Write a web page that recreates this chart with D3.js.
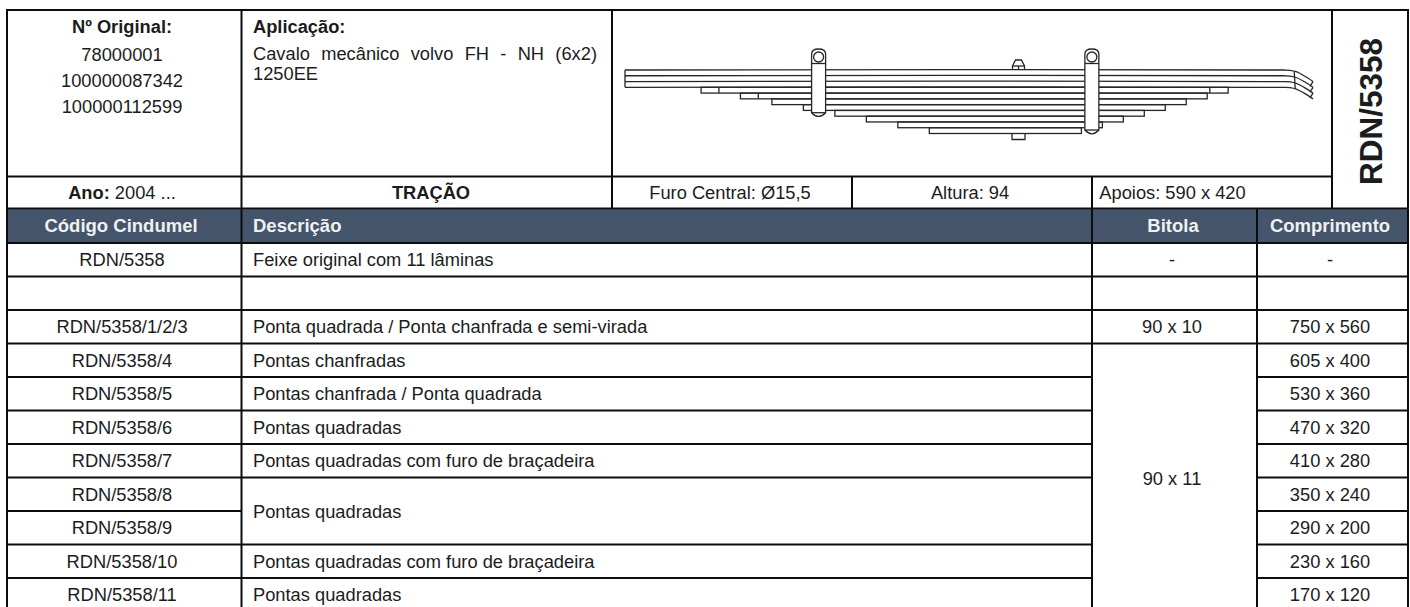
<!DOCTYPE html>
<html>
<head>
<meta charset="utf-8">
<script src="https://cdn.jsdelivr.net/npm/d3@7"></script>
<style>
  html, body { margin: 0; padding: 0; background: #fff; overflow: hidden; }
  svg { display: block; }
  text { font-family: "Liberation Sans", Arial, sans-serif; }
</style>
</head>
<body>
<script>
// table contents
var originalNumbers = ["78000001", "100000087342", "100000112599"];
var application = ["Cavalo mecânico volvo FH - NH (6x2)", "1250EE"];
var infoLabels = ["Furo Central: Ø15,5", "Altura: 94", "Apoios: 590 x 420"];
var headers = ["Código Cindumel", "Descrição", "Bitola", "Comprimento"];
var codes = ["RDN/5358", "", "RDN/5358/1/2/3", "RDN/5358/4", "RDN/5358/5", "RDN/5358/6",
    "RDN/5358/7", "RDN/5358/8", "RDN/5358/9", "RDN/5358/10", "RDN/5358/11"];
var descriptions = ["Feixe original com 11 lâminas", "", "Ponta quadrada / Ponta chanfrada e semi-virada",
    "Pontas chanfradas", "Pontas chanfrada / Ponta quadrada", "Pontas quadradas",
    "Pontas quadradas com furo de braçadeira", "Pontas quadradas", null,
    "Pontas quadradas com furo de braçadeira", "Pontas quadradas"];
var gauges = ["-", "", "90 x 10", "90 x 11"];
var lengths = ["-", "", "750 x 560", "605 x 400", "530 x 360", "470 x 320", "410 x 280",
    "350 x 240", "290 x 200", "230 x 160", "170 x 120"];

// leaf lengths in mm either side of the centre bolt, one per leaf
var leafLong = [750, 750, 750, 605, 530, 470, 410, 350, 290, 230, 170];
var leafShort = [560, 560, 560, 400, 360, 320, 280, 240, 200, 160, 120];
// steps marked on the leaves: [leaf, mm from the bolt, negative = long side]
var leafMarks = [[3, -571], [4, -496], [3, 365]];
// u-bolts: mm from the bolt and the leaf level they reach down to
var clampAt = [-381, 140];
var clampDepth = [7.4, 10.4];
// how far the main leaf tip drops, in leaf thicknesses: [mm, drop]
var tipDrop = [[506, 0], [518, 0.06], [530, 0.3], [545, 1], [562, 2]];

var width = 1410, height = 607;
var svg = d3.select("body").append("svg").attr("width", width).attr("height", height);

// column and row edges of the table
var colX = [7, 241.5, 612, 852, 1092, 1257, 1332, 1408];
var topY = 10, picY = 176.5, infoY = 208.3, headY = 243, rowH = 33.5;
var rowY = d3.scaleLinear().domain([0, 1]).range([headY, headY + rowH]);
var rowCount = codes.length;
var bottomY = rowY(rowCount);
var ink = "#0c0c0c", textInk = "#1c1c1c";

function hline(x1, x2, y, w) {
    svg.append("line").attr("x1", x1).attr("x2", x2).attr("y1", y).attr("y2", y)
        .attr("stroke", ink).attr("stroke-width", w || 1.8);
}
function vline(x, y1, y2, w) {
    svg.append("line").attr("x1", x).attr("x2", x).attr("y1", y1).attr("y2", y2)
        .attr("stroke", ink).attr("stroke-width", w || 2);
}
function label(x, y, str, opts) {
    opts = opts || {};
    return svg.append("text").attr("x", x).attr("y", y)
        .attr("text-anchor", opts.anchor || "middle")
        .attr("font-size", opts.size || 18.3)
        .attr("font-weight", opts.bold ? "bold" : "normal")
        .style("fill", opts.fill || textInk)
        .text(str);
}

// header band
svg.append("rect").attr("x", colX[0]).attr("y", infoY).attr("width", colX[7] - colX[0])
    .attr("height", headY - infoY).attr("fill", "#44546a");

// ---- the spring drawing ----
var boltX = 1018.5;
var mm = d3.scaleLinear().domain([0, 750]).range([boltX, 625]);     // long side goes left
var mmR = d3.scaleLinear().domain([0, 560]).range([boltX, 1312]);   // short side goes right
var leafY = d3.scaleLinear().domain([0, 11]).range([70, 133.5]);
var spring = svg.append("g").attr("fill", "none").attr("stroke", "#262626").attr("stroke-width", 1.3);

// bolt and nut
spring.append("path").attr("d", d3.line()([[boltX - 6.5, leafY(11)], [boltX - 6.5, 139.5], [boltX + 6.5, 139.5], [boltX + 6.5, leafY(11)]]));
spring.append("path").attr("d", d3.line()([[boltX - 6, leafY(0)], [boltX - 6, 66], [boltX - 3, 60], [boltX + 3, 60], [boltX + 6, 66], [boltX + 6, leafY(0)]]));
spring.append("line").attr("x1", boltX - 6).attr("x2", boltX + 6).attr("y1", 66).attr("y2", 66);
spring.append("line").attr("x1", boltX).attr("x2", boltX).attr("y1", 66).attr("y2", leafY(0));

// shorter leaves
leafLong.forEach(function(len, i) {
    if (leafShort[i] == d3.max(leafShort)) return;
    spring.append("rect").attr("x", mm(len)).attr("y", leafY(i))
        .attr("width", mmR(leafShort[i]) - mm(len)).attr("height", leafY(i + 1) - leafY(i));
});

// boundaries of the three main leaves with the bent tip
var tipLine = d3.line().curve(d3.curveCatmullRom);
d3.range(0, 4).forEach(function(i) {
    var path = [[mm(750), leafY(i)]].concat(tipDrop.map(function(d) {
        return [mmR(d[0]), leafY(i + d[1])];
    }));
    spring.append("path").attr("d", tipLine(path));
});
spring.append("line").attr("x1", mm(750)).attr("x2", mm(750)).attr("y1", leafY(0)).attr("y2", leafY(3));
// leaf ends: saw tooth at the tips and the cut where the bend begins
d3.range(0, 3).forEach(function(i) {
    var a = [mmR(562), leafY(i + 2)], b = [mmR(556), leafY(i + 3) - 1];
    spring.append("path").attr("d", d3.line()([a, b]));
});
spring.append("line").attr("x1", mmR(526)).attr("x2", mmR(528))
    .attr("y1", leafY(0.2)).attr("y2", leafY(3.3));

// steps on the leaves
leafMarks.forEach(function(d) {
    var x = d[1] < 0 ? mm(-d[1]) : mmR(d[1]);
    spring.append("line").attr("x1", x).attr("x2", x).attr("y1", leafY(d[0])).attr("y2", leafY(d[0] + 1));
});

// u-bolts over the leaves
clampAt.forEach(function(c, n) {
    var cx = c < 0 ? mm(-c) : mmR(c);
    var bottom = leafY(clampDepth[n]);
    var g = spring.append("g");
    g.append("path").attr("fill", "#fff").attr("d",
        "M" + (cx - 7) + "," + bottom + " Q" + cx + "," + (bottom + 7.5) + " " + (cx + 7) + "," + bottom +
        " L" + (cx + 7) + ",54 Q" + (cx + 7) + ",49 " + cx + ",49 Q" + (cx - 7) + ",49 " + (cx - 7) + ",54 Z");
    g.append("circle").attr("cx", cx).attr("cy", 57).attr("r", 5);
    g.append("line").attr("x1", cx - 7).attr("x2", cx + 7).attr("y1", 63.5).attr("y2", 63.5);
    g.append("line").attr("x1", cx - 7).attr("x2", cx + 7).attr("y1", bottom).attr("y2", bottom);
});

// ---- table lines ----
hline(colX[0] - 1, colX[7] + 1, topY, 2);
hline(colX[0], colX[6], picY);
hline(colX[0], colX[7], infoY);
hline(colX[0], colX[7], headY);
vline(colX[0], topY, bottomY);
vline(colX[7], topY, infoY);
vline(colX[1], topY, bottomY);
vline(colX[2], topY, infoY);
vline(colX[3], picY, infoY);
vline(colX[4], picY, infoY);
vline(colX[6], topY, infoY);
vline(colX[4], infoY, bottomY);
vline(colX[5], infoY, bottomY);
vline(colX[7], infoY, bottomY);

codes.forEach(function(c, i) {
    var y = rowY(i + 1);
    if (i == rowCount - 1) return;
    hline(colX[0], colX[1], y);
    // descriptions 8 and 9 share one cell
    if (descriptions[i + 1] !== null) hline(colX[1], colX[4], y);
    // the last gauge covers rows 3 to 10
    if (i < 3) hline(colX[4], colX[5], y);
    hline(colX[5], colX[7], y);
});

// ---- texts ----
var codeX = 122, descX = 253, gaugeX = 1172, lengthX = 1330;
label(codeX, 32.7, "Nº Original:", { bold: true });
originalNumbers.forEach(function(n, i) {
    label(codeX, 60.5 + i * 26.3, n);
});
label(descX, 32.7, "Aplicação:", { anchor: "start", bold: true });
// first line is justified up to the cell edge
var firstLine = label(descX, 60, application[0], { anchor: "start" });
var spaces = application[0].split(" ").length - 1;
firstLine.style("word-spacing", (344 - firstLine.node().getComputedTextLength()) / spaces + "px");
label(descX, 80, application[1], { anchor: "start" });

var ano = label(codeX, 199, "", {});
ano.append("tspan").attr("font-weight", "bold").text("Ano:");
ano.append("tspan").text(" 2004 ...");
label(431, 199, "TRAÇÃO", { bold: true });
infoLabels.forEach(function(t, i) {
    label((colX[2 + i] + colX[3 + i]) / 2 - 2, 199, t);
});

svg.append("text").attr("transform", "translate(1382,185) rotate(-90)")
    .attr("font-size", 31.5).attr("font-weight", "bold").style("fill", textInk).text("RDN/5358");

var headFill = "#f0f0f0", headSize = 18.5;
label(codeX - 1, 232, headers[0], { bold: true, fill: headFill, size: headSize });
label(descX, 232, headers[1], { anchor: "start", bold: true, fill: headFill, size: headSize });
label(gaugeX + 1, 232, headers[2], { bold: true, fill: headFill, size: headSize });
label(lengthX, 232, headers[3], { bold: true, fill: headFill, size: headSize });

codes.forEach(function(c, i) {
    var y = rowY(i + 0.5) + 6.5;
    label(codeX, y, c);
    label(lengthX, y, lengths[i]);
    if (descriptions[i]) {
        var dy = i == 7 ? rowY(i + 1) + 6.5 : y;
        label(descX, dy, descriptions[i], { anchor: "start" });
    }
});
gauges.forEach(function(g, i) {
    var y = i < 3 ? rowY(i + 0.5) + 6.5 : rowY(7) + 7;
    label(gaugeX, y, g);
});
</script>
</body>
</html>
